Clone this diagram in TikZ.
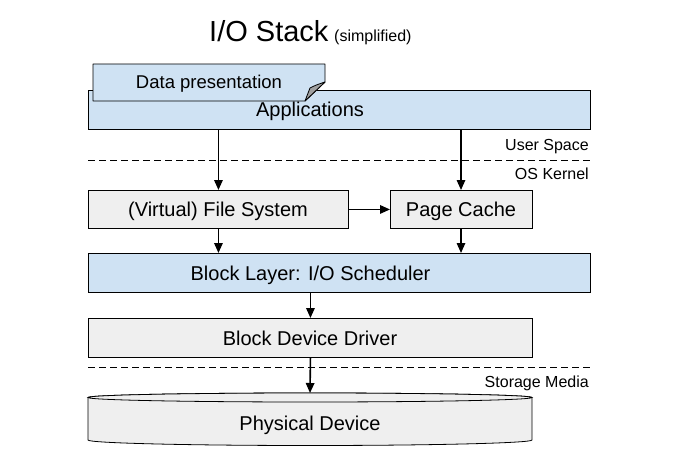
\documentclass[tikz,border=0pt]{standalone}
\usepackage{fontspec}
\setmainfont{Liberation Sans}
\usetikzlibrary{arrows.meta}
\definecolor{lblue}{HTML}{CFE2F3}
\definecolor{lgray}{HTML}{EFEFEF}
\definecolor{foldgray}{HTML}{A0A0A0}
\begin{document}
\begin{tikzpicture}[x=1pt,y=-1pt,
  box/.style={draw=black, line width=0.9pt, inner sep=0pt, anchor=north west},
  bluebox/.style={box, fill=lblue},
  graybox/.style={box, fill=lgray},
  txt/.style={inner sep=0pt, anchor=base, font=\fontsize{20}{23}\selectfont},
  side/.style={inner sep=0pt, anchor=base east, font=\fontsize{16}{19}\selectfont},
  arr/.style={line width=1.6pt, -{Triangle[length=10pt,width=8.5pt]}},
  sep/.style={line width=0.8pt, dash pattern=on 7pt off 4pt}]
\useasboundingbox (0,0) rectangle (679,457);
% title
\node[inner sep=0pt, anchor=base west, font=\fontsize{29}{32}\selectfont] (title) at (209,42) {I/O Stack};
\node[inner sep=0pt, anchor=base west, font=\fontsize{16}{19}\selectfont] (subtitle) at (334,42) {(simplified)};
% applications
\node[bluebox, minimum width=502pt, minimum height=39pt] (app) at (88,90) {};
\node[txt] (apptxt) at (310,117) {Applications};
% note
\draw[fill=lblue, line width=0.9pt, line join=round] (93,64) -- (325,64) -- (325,82) -- (305,101) -- (93,101) -- cycle;
\draw[fill=foldgray, line width=0.8pt, line join=round] (325,82) -- (305,101) -- (310,88) .. controls (316,85) .. (325,82) -- cycle;
\node[txt, font=\fontsize{18.5}{21}\selectfont] (note) at (209,89) {Data presentation};
% separators
\draw[sep] (88,160) -- (590,160);
\node[side] (us) at (589,151) {User Space};
\node[side] (os) at (589,179) {OS Kernel};
% kernel boxes
\node[graybox, minimum width=260pt, minimum height=38pt] (fs) at (88,190) {};
\node[txt] (fstxt) at (218,216) {(Virtual) File System};
\node[graybox, minimum width=142pt, minimum height=38pt] (pc) at (390,190) {};
\node[txt] (pctxt) at (461,216) {Page Cache};
\node[bluebox, minimum width=502pt, minimum height=39pt] (bl) at (88,253) {};
\node[txt] (bltxt) at (310.5,280) {Block Layer: I/O Scheduler};
\node[graybox, minimum width=444pt, minimum height=39pt] (bdd) at (88,318) {};
\node[txt] (bddtxt) at (310,345) {Block Device Driver};
\draw[sep] (88,367) -- (590,367);
\node[side] (sm) at (589,387) {Storage Media};
% disk
\draw[fill=lgray, line width=0.8pt] (88,397.5) -- (88,440) arc[start angle=180, end angle=0, x radius=222, y radius=5.5] -- (532,397.5) arc[start angle=0, end angle=-180, x radius=222, y radius=4.5] -- cycle;
\draw[fill=lgray, line width=0.8pt] (310,397.5) ellipse[x radius=222, y radius=4.5];
\coordinate (disktop) at (310,393);
\node[txt] (disk) at (310,430) {Physical Device};
% arrows
\draw[arr] (app.south -| fs.north) -- (fs.north);
\draw[arr] (app.south -| pctxt) -- (pctxt |- pc.north);
\draw[arr] (fs.east) -- (pc.west);
\draw[arr] (fs.south) -- (fs.south |- bl.north);
\draw[arr] (pctxt |- pc.south) -- (pctxt |- bl.north);
\draw[arr] (bl.south -| bdd.north) -- (bdd.north);
\draw[arr] (bdd.south) -- (disktop);
\end{tikzpicture}
\end{document}
